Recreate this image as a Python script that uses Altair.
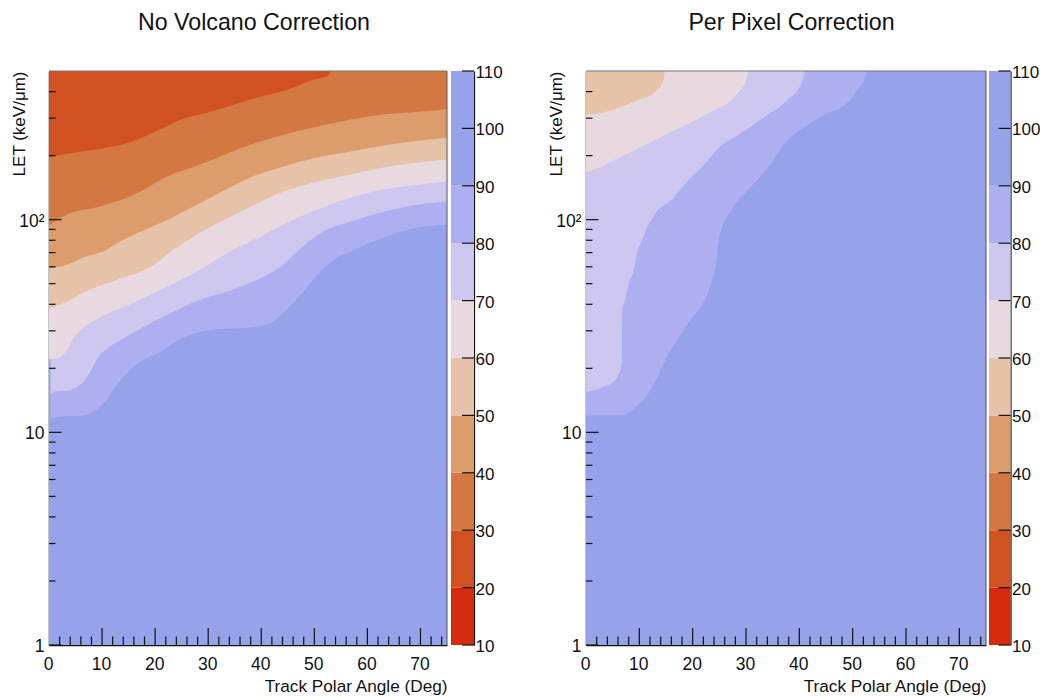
import altair as alt
import pandas as pd

FONT = "Liberation Sans"
TOP = 500
XMAX = 75

# colour bands: (low, high, colour)
band_lo = [10, 20, 30, 40, 50, 60, 70, 80, 90]
band_hi = [20, 30, 40, 50, 60, 70, 80, 90, 110]
band_col = ["#D32B0C", "#D25120", "#D47842", "#DD9C6C", "#E5C2A8", "#E8D8E0", "#CDC7EF", "#ADAFF0", "#96A2EA"]

# Left panel contour boundaries: angle, LET
L80_a = [0.3, 1.8, 6.9, 7.9, 9.4, 10.9, 12.2, 14.1, 16.9, 20.7, 25.4, 31, 38, 41.2, 44.2, 46.1, 48, 50.6, 53.7, 56.9, 63, 69.5, 75]
L80_v = [11.5, 11.85, 12, 12.4, 13.1, 14.3, 15.9, 18.3, 21.3, 23.7, 27.9, 30.4, 31.1, 32.1, 36.6, 40.8, 45.9, 55.2, 64.9, 70.8, 82.4, 91.8, 95]
L70_a = [0.3, 1.4, 3.3, 5, 6.5, 7.9, 9.4, 10.7, 13.7, 16.9, 22.4, 28.6, 34.8, 38, 41.2, 44.2, 46.1, 48.7, 51.7, 56.9, 63, 69.5, 75]
L70_v = [15.1, 15.6, 15.7, 16.2, 17.3, 19.5, 22.7, 24.5, 27.3, 30.4, 35.8, 42.1, 46.9, 50.6, 55.2, 61.5, 68.5, 78, 87.9, 98, 109, 117.6, 121.6]
L60_a = [0, 1.8, 3.5, 4.5, 6.5, 9.7, 16, 22.4, 28.6, 34.8, 38, 44.2, 50.6, 56.9, 63, 69.5, 75]
L60_v = [22, 22.5, 24.5, 27.3, 31.1, 34.7, 40.8, 48.5, 58.3, 72.4, 78.9, 95, 111.5, 127, 138.5, 146, 151]
L50_a = [0, 3.5, 6.5, 13, 19.2, 23.5, 38, 44.2, 50.6, 56.9, 63, 69.5, 75]
L50_v = [38.2, 41.2, 45.4, 52.3, 60.2, 72.4, 115, 135.7, 151, 163, 176, 185.5, 192]
L40_a = [0, 3.5, 6.5, 11, 13, 16, 22.4, 28.6, 38, 44.2, 50.6, 56.9, 63, 69.5, 75]
L40_v = [58.9, 61.5, 66.4, 72.4, 78, 85, 100, 120, 158, 178, 196, 209, 223, 235, 243]
L30_a = [0, 2.8, 9.7, 16, 22.4, 28.6, 38, 44.2, 50.6, 56.9, 63, 69.5, 75]
L30_v = [94, 104, 115.5, 131, 160, 182, 225, 251, 274, 296, 312, 322, 330]
L20_a = [0, 5, 10, 15, 20, 25, 30, 35, 40, 45, 50, 52.7, 53]
L20_v = [196.5, 207, 216, 230, 259, 296, 319, 348, 379, 409, 456, 476, 500]

# Right panel contour boundaries
R80_a = [0, 6.8, 8.7, 10.3, 11.8, 15.6, 18.7, 23.6, 24.3, 24.5, 24.9, 27.3, 31, 34.8, 37.9, 41.1, 45.9, 47.2, 51, 52.5, 52.6]
R80_v = [12, 12, 12.8, 13.8, 15.4, 23.7, 31.4, 51.2, 60.2, 64.9, 80.6, 111.5, 143, 185.5, 238, 274, 322, 330, 409, 481, 500]
R70_a = [0, 2, 3.4, 4.9, 5.9, 6.75, 6.8, 7.2, 8.1, 9, 9.7, 10, 11.3, 13.1, 16.1, 19.3, 22.5, 24.9, 28.6, 33.6, 37.9, 40.3, 41.1]
R70_v = [15.4, 15.9, 16.4, 17.1, 18.3, 21.3, 37.8, 40.8, 50.6, 58.3, 72.4, 74.7, 89.8, 108, 124.3, 154.3, 185.5, 218, 251, 305, 367, 432, 500]
R60_a = [0, 2.5, 6.2, 10, 16.1, 22.5, 28.6, 30.1, 30.3]
R60_v = [166.5, 176, 196, 218, 259, 312, 396, 456, 500]
R50_a = [0, 3.8, 6.8, 10, 12.8, 14.6, 14.7]
R50_v = [312, 322, 340, 367, 396, 456, 500]

LEFT = [(L80_a, L80_v, band_col[7]), (L70_a, L70_v, band_col[6]), (L60_a, L60_v, band_col[5]),
        (L50_a, L50_v, band_col[4]), (L40_a, L40_v, band_col[3]), (L30_a, L30_v, band_col[2]),
        (L20_a, L20_v, band_col[1])]
RIGHT = [(R80_a, R80_v, band_col[7]), (R70_a, R70_v, band_col[6]), (R60_a, R60_v, band_col[5]),
         (R50_a, R50_v, band_col[4])]

x_major = [0, 10, 20, 30, 40, 50, 60, 70]
x_minor = [2, 4, 6, 8, 12, 14, 16, 18, 22, 24, 26, 28, 32, 34, 36, 38, 42, 44, 46, 48,
           52, 54, 56, 58, 62, 64, 66, 68, 72, 74]
y_major = [1, 10, 100]
y_minor = [2, 3, 4, 5, 6, 7, 8, 9, 20, 30, 40, 50, 60, 70, 80, 90, 200, 300, 400]
cb_ticks = [10, 20, 30, 40, 50, 60, 70, 80, 90, 100, 110]

H = 574
xscale = alt.Scale(domain=[0, XMAX], nice=False, zero=False)
yscale = alt.Scale(type="log", domain=[1, TOP], nice=False, base=10)


def panel(bands, title, width, dx):
    xenc = alt.X("a:Q", scale=xscale, axis=alt.Axis(
        values=x_major, title="Track Polar Angle (Deg)", titleAnchor="end", grid=False,
        tickSize=0, labelPadding=10, labelFlush=False, labelOverlap=False, labelOffset=-1, domainColor="#111",
        domainWidth=1.5, labelFontSize=17.5, titleFontSize=17.2, titleFontWeight="normal",
        labelFont=FONT, titleFont=FONT, labelColor="#111", titleColor="#111", titlePadding=5))
    yenc = alt.Y("v:Q", scale=yscale, axis=alt.Axis(
        values=y_major, title="LET (keV/μm)", titleAnchor="end", grid=False, tickSize=0,
        labelPadding=5, labelOffset=1.5, labelExpr="datum.value == 100 ? '10²' : datum.value", labelFlush=False,
        labelOverlap=False, domainColor="#111", domainWidth=1.5, labelFontSize=17.5,
        titleFontSize=17, titleFontWeight="normal", labelFont=FONT, titleFont=FONT,
        labelColor="#111", titleColor="#111", titlePadding=-10))
    layers = []
    base = pd.DataFrame({"a": [0, XMAX], "v": [1, 1], "t": [TOP, TOP]})
    layers.append(alt.Chart(base).mark_area(color=band_col[8], opacity=1).encode(xenc, yenc, y2="t:Q"))
    for a, v, col in bands:
        df = pd.DataFrame({"a": a, "v": v, "t": [TOP] * len(a)})
        layers.append(alt.Chart(df).mark_area(color=col, opacity=1, interpolate="monotone", clip=True).encode(
            alt.X("a:Q", scale=xscale), alt.Y("v:Q", scale=yscale), y2="t:Q"))
    tick = lambda vals, ln, w: alt.Chart(pd.DataFrame({"v": vals})).mark_rule(color="#111", strokeWidth=w).encode(
        alt.Y("v:Q", scale=yscale), x=alt.value(0), x2=alt.value(ln))
    layers.append(tick(y_major, 12.5, 1.2))
    layers.append(tick(y_minor, 6.5, 1.2))
    xtick = lambda vals, ln, w: alt.Chart(pd.DataFrame({"a": vals})).mark_rule(color="#111", strokeWidth=w).encode(
        alt.X("a:Q", scale=xscale), y=alt.value(H), y2=alt.value(H - ln))
    layers.append(xtick(x_major[1:], 17, 1.2))
    layers.append(xtick(x_minor, 8.5, 1.2))
    layers.append(alt.Chart(pd.DataFrame({"v": [TOP]})).mark_rule(color="#777", strokeWidth=1.2).encode(
        alt.Y("v:Q", scale=yscale), x=alt.value(0), x2=alt.value(width)))
    layers.append(alt.Chart(pd.DataFrame({"a": [XMAX]})).mark_rule(color="#555", strokeWidth=1).encode(
        alt.X("a:Q", scale=xscale), y=alt.value(0), y2=alt.value(H)))
    return alt.layer(*layers).properties(
        width=width, height=H,
        title=alt.TitleParams(title, font=FONT, fontSize=23.2, fontWeight="normal", color="#111",
                              offset=35, dx=dx, anchor="middle"))


def colorbar(w):
    df = pd.DataFrame({"lo": band_lo, "hi": band_hi, "col": band_col})
    cscale = alt.Scale(domain=[10, 110], nice=False, zero=False)
    rects = alt.Chart(df).mark_rect(opacity=1).encode(
        alt.Y("lo:Q", scale=cscale, axis=alt.Axis(
            values=cb_ticks, orient="right", title=None, grid=False, tickSize=0, labelPadding=1,
            labelOffset=1.5, labelFlush=False, labelOverlap=False, domainColor="#111", domainWidth=1.2,
            labelFontSize=17, labelFont=FONT, labelColor="#111")),
        y2="hi:Q", x=alt.value(0), x2=alt.value(w),
        color=alt.Color("col:N", scale=None))
    ticks = alt.Chart(pd.DataFrame({"lo": cb_ticks})).mark_rule(color="#111", strokeWidth=1.2).encode(
        alt.Y("lo:Q", scale=cscale), x=alt.value(w - 12), x2=alt.value(w))
    return alt.layer(rects, ticks).properties(width=w, height=H)


left = alt.hconcat(panel(LEFT, "No Volcano Correction", 398, 6), colorbar(23), spacing=3)
right = alt.hconcat(panel(RIGHT, "Per Pixel Correction", 400, 5.5), colorbar(21.5), spacing=2)
chart = alt.hconcat(left, right, spacing=43).properties(
    padding={"left": 2, "top": 3, "right": 0, "bottom": 0}
).configure_view(stroke=None)

chart.save("out.html", embed_options={"renderer": "svg", "actions": False})
